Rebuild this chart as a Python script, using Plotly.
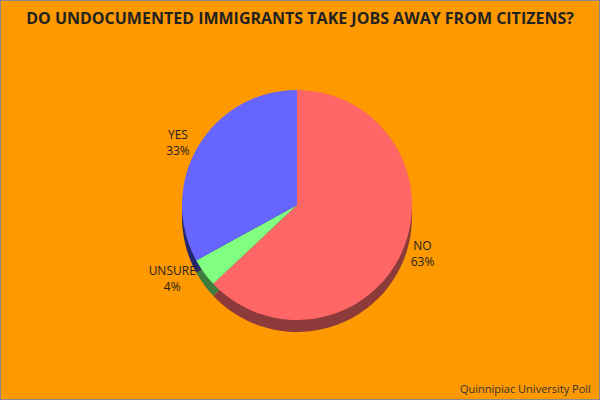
import plotly.graph_objects as go

labels = ["NO", "UNSURE", "YES"]
values = [63, 4, 33]
colors = ["#FF6666", "#80FF80", "#6666FF"]
side_colors = ["#8C3A3A", "#3F7A3F", "#25266B"]
title_text = "DO UNDOCUMENTED IMMIGRANTS TAKE JOBS AWAY FROM CITIZENS?"
source_text = "Quinnipiac University Poll"

fig = go.Figure()

# darker copy underneath, shifted down, to suggest the pie's depth
fig.add_trace(go.Pie(
    labels=labels, values=values, sort=False, direction="clockwise", rotation=0,
    marker=dict(colors=side_colors, line=dict(width=0)),
    textinfo="none", hoverinfo="skip", showlegend=False,
    domain=dict(x=[0, 0.99], y=[0.17, 0.745]),
))

fig.add_trace(go.Pie(
    labels=labels, values=values, sort=False, direction="clockwise", rotation=0,
    marker=dict(colors=colors, line=dict(width=0)),
    textinfo="label+percent", texttemplate="%{label}<br>%{percent:.0%}",
    textposition="outside",
    outsidetextfont=dict(family="Open Sans", size=12, color="#222222"),
    showlegend=False, automargin=False,
    domain=dict(x=[0, 0.99], y=[0.2, 0.775]),
))

fig.update_layout(
    width=600, height=400,
    margin=dict(l=0, r=0, t=0, b=0),
    paper_bgcolor="#FF9900",
    title=dict(text="<b>" + title_text + "</b>", x=0.5, xanchor="center", y=0.955, yanchor="middle",
               font=dict(family="Open Sans", size=16, color="#222222")),
    annotations=[dict(text=source_text, xref="paper", yref="paper", x=0.988, y=0.005,
                      xanchor="right", yanchor="bottom", showarrow=False,
                      font=dict(family="Open Sans", size=11, color="#333333"))],
    shapes=[dict(type="rect", xref="paper", yref="paper", x0=0, y0=0, x1=1, y1=1,
                 line=dict(color="#888888", width=2))],
)

fig.write_html("out.html", config={"displayModeBar": False},
               post_script="document.body.style.margin='0';document.body.style.overflow='hidden';")
